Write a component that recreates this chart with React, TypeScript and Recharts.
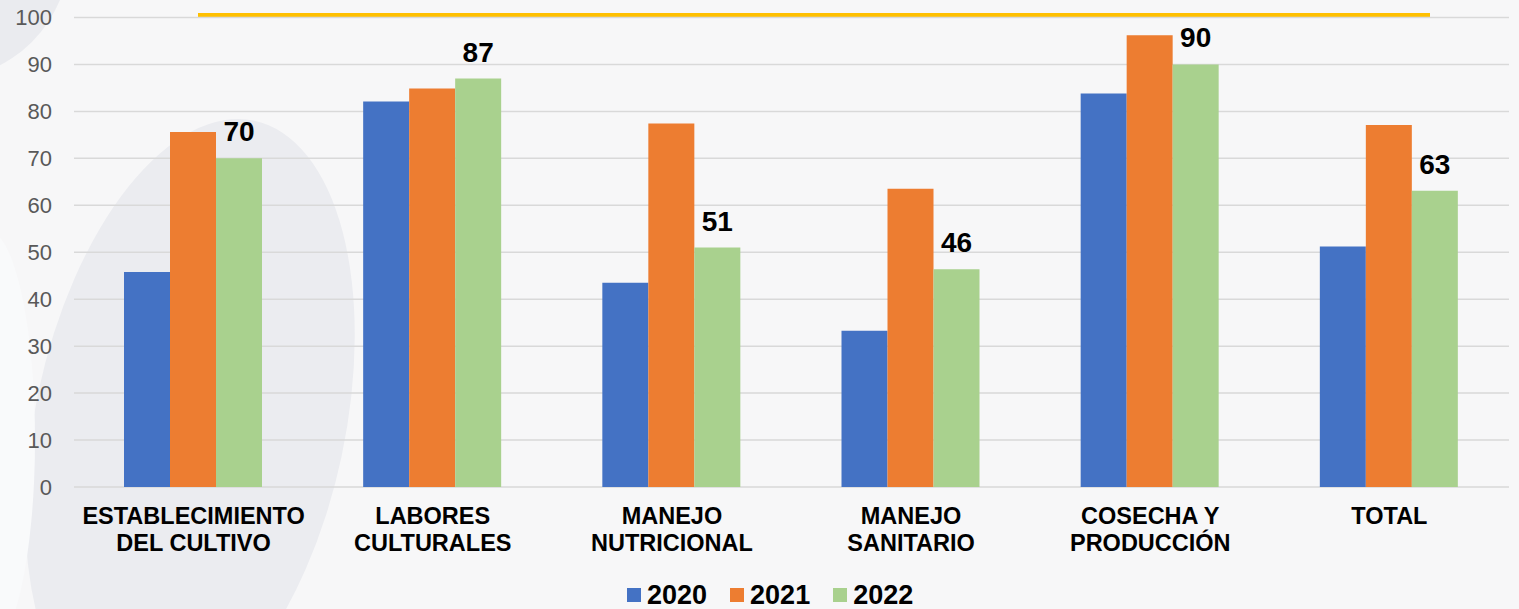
import React from 'react';
import { BarChart, Bar, XAxis, YAxis, CartesianGrid, Legend, LabelList } from 'recharts';

const categories = [
  'ESTABLECIMIENTO\nDEL CULTIVO',
  'LABORES\nCULTURALES',
  'MANEJO\nNUTRICIONAL',
  'MANEJO\nSANITARIO',
  'COSECHA Y\nPRODUCCIÓN',
  'TOTAL',
];
const values2020 = [45.8, 82.1, 43.5, 33.3, 83.8, 51.2];
const values2021 = [75.6, 84.9, 77.4, 63.5, 96.2, 77.1];
const values2022 = [70, 87, 51, 46.4, 90, 63.1];
const yTicks = [0, 10, 20, 30, 40, 50, 60, 70, 80, 90, 100];

const data = categories.map((name, i) => ({
  name,
  y2020: values2020[i],
  y2021: values2021[i],
  y2022: values2022[i],
}));

const FONT = '"Liberation Sans", Arial, sans-serif';

const CategoryTick = (props: any) => {
  const { x, y, payload } = props;
  const lines = String(payload.value).split('\n');
  return (
    <text x={x} y={y} textAnchor="middle" fontFamily={FONT} fontSize={23.5} fontWeight="bold" fill="#000">
      {lines.map((l, i) => (
        <tspan key={i} x={x} y={y + 29 + i * 27}>{l}</tspan>
      ))}
    </text>
  );
};

const LegendContent = (props: any) => {
  const { payload } = props;
  return (
    <div style={{ height: 40, display: 'flex', alignItems: 'center', paddingLeft: 627, paddingTop: 12, boxSizing: 'border-box' }}>
      {(payload || []).map((p: any) => (
        <div key={p.value} style={{ display: 'flex', alignItems: 'center', marginRight: 23 }}>
          <span style={{ width: 14, height: 14, background: p.color, display: 'inline-block', marginRight: 6 }} />
          <span style={{ fontFamily: FONT, fontSize: 27, fontWeight: 'bold', color: '#000', lineHeight: '28px' }}>{p.value}</span>
        </div>
      ))}
    </div>
  );
};

export default function App() {
  return (
    <div style={{ position: 'fixed', top: 0, left: 0, width: 1519, height: 609, background: '#f7f7f8', overflow: 'hidden' }}>
      {/* background decor */}
      <div style={{ position: 'absolute', left: -190, top: -180, width: 260, height: 260, borderRadius: '50%', background: '#eaebef' }} />
      <div style={{ position: 'absolute', left: 35, top: 114, width: 310, height: 620, borderRadius: '50%', background: '#ebecf0', transform: 'rotate(12deg)' }} />
      <div style={{ position: 'absolute', left: -60, top: 230, width: 95, height: 420, borderRadius: '50%', background: '#f9fafb' }} />
      <div style={{ position: 'absolute', left: 198, top: 13, width: 1232, height: 5, background: '#ffc000' }} />
      <div style={{ position: 'absolute', left: 0, top: 0 }}>
        <BarChart
          width={1519}
          height={609}
          data={data}
          margin={{ top: 17.5, right: 10, left: 0, bottom: 0 }}
          barCategoryGap={50}
          barGap={0}
        >
          <CartesianGrid vertical={false} stroke="#d9d9d9" strokeWidth={1.5} />
          <XAxis
            dataKey="name"
            axisLine={false}
            tickLine={false}
            interval={0}
            height={82}
            tick={<CategoryTick />}
          />
          <YAxis
            domain={[0, 100]}
            ticks={yTicks}
            axisLine={false}
            tickLine={false}
            tickSize={0}
            tickMargin={22}
            width={74}
            tick={{ fill: '#595959', fontSize: 22, fontFamily: FONT }}
          />
          <Legend verticalAlign="bottom" content={<LegendContent />} />
          <Bar dataKey="y2020" name="2020" fill="#4472c4" isAnimationActive={false} />
          <Bar dataKey="y2021" name="2021" fill="#ed7d31" isAnimationActive={false} />
          <Bar dataKey="y2022" name="2022" fill="#a9d18e" isAnimationActive={false}>
            <LabelList
              dataKey="y2022"
              position="top"
              offset={17}
              formatter={(v: any) => Math.round(Number(v))}
              style={{ fontFamily: FONT, fontSize: 28, fontWeight: 'bold', fill: '#000' }}
            />
          </Bar>
        </BarChart>
      </div>
    </div>
  );
}
